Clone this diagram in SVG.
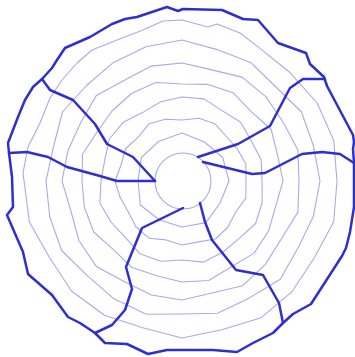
<svg xmlns="http://www.w3.org/2000/svg" width="355" height="357" viewBox="0 0 355 357">
<style>
.ring{fill:none;stroke:#a9a9ea;stroke-width:1.1;stroke-linejoin:round}
.wall{fill:none;stroke:#2f2fcf;stroke-width:2.5;stroke-linejoin:round;stroke-linecap:round}
</style>
<rect width="355" height="357" fill="#ffffff"/>
<g id="rings">
<circle id="hub" class="ring" cx="183" cy="181" r="28"/>
<polygon id="ring1" class="ring" points="229,181 220.1,203 206,222.6 182,227 159.5,220 140.4,205 138,181 141.3,157.5 159,141.2 182,133 204.5,142 222.7,157.5"/>
<polygon id="ring2" class="ring" points="246,181 245.8,198.1 235.7,212 228,227 215.5,239 198.3,241.9 182,245 166.2,239.9 149,238.2 136,227 128.3,212 120.2,197.6 115,181 121.1,164.7 125.7,148.5 138.2,137.2 149,123.8 165.4,119.2 182,120 198.8,118.2 215,123.8 226.5,136.5 237.4,149 245.8,163.9"/>
<polygon id="ring3" class="ring" points="262,181 262.2,202.5 255.6,223.5 239.3,238.3 223,252 203.8,262.1 182,260 160.5,261.2 140,253.7 125.4,237.6 111,222 99.9,203 101,181 104.7,160.3 109.3,139 123.3,122.3 142.5,112.6 160.8,101.8 182,97 204,98.9 222.5,110.9 240.7,122.3 251.3,141 261.2,159.8"/>
<polygon id="ring4" class="ring" points="283,181 275.7,206.1 268.6,231 254.1,253.1 231.5,266.7 208.7,280.5 182,282 156.6,275.7 132,267.6 113.4,249.6 93.7,232 84.4,207.2 82,181 82.5,154.3 97.1,132 112,111 131.5,93.5 155.6,82.5 182,84 207.9,84.4 233,92.7 251.3,111.7 271.2,129.5 277.6,155.4"/>
<polygon id="ring5" class="ring" points="299,181 297.9,212.1 281.6,238.5 265.4,264.4 242.5,285.8 212,293 182,300 151.4,295 124,281.5 96.4,266.6 78.9,240.5 70.9,210.8 62,181 68,150.4 80.7,122.5 96.4,95.4 124,80.5 151.2,66.1 182,63 211.8,69.9 242,77.1 266.1,96.9 283.3,122.5 297.9,149.9"/>
<polygon id="ring6" class="ring" points="320,181 313.4,216.2 298,248 280.3,279.3 249.5,297.9 217.5,313.3 182,314 146.3,314.3 114,298.8 87.3,275.7 61.6,250.5 49.7,216.5 46,181 53.5,146.6 62.5,112 86.5,85.5 113.5,62.4 146,46.7 182,40 217.2,49.6 250.5,62.4 276,87 301.5,112 313.4,145.8"/>
<polygon id="ring7" class="ring" points="337,181 333.7,221.7 314.5,257.5 292.3,291.3 261,317.8 221.9,329.8 182,338 142.7,327.8 104.5,315.2 71.7,291.3 49.5,257.5 29.4,221.9 23,173 28,147 40,123 50,98 62,80 77,63 92,50 117,40 143,30 163,21 182,20 208,27 217,24 240,33 259,47.6 290.2,72.8 317.1,103 333.7,140.4"/>
</g>
<g id="outer">
<polygon class="wall" points="167,7 178,11 183,9 222,10 243,19 258,20 278,43 306,53 310,64 324,77 327,86 353,135 354,142 353,149 354,163 354,207 350,232 346,248 342,256 311,304 293,314 283,323 273,333 253,343 237,352 213,350 167,350 148,354 127,344 105,343 95,333 80,323 68,317 52,295 28,274 23,252 7,215 13,207 12,177 9,153 8,143 18,117 25,100 33,87 42,79 52,68 57,60 65,48 90,37 112,24 125,19 137,17"/>
</g>
<g id="connectors">
<polyline id="wall-ul" class="wall" points="155,181 133,157 107,144 95,124 73,100 50,90 42,79"/>
<polyline id="wall-l" class="wall" points="9,153 27,152 48,157 67,167 100,176 117,181 155,181"/>
<polyline id="wall-ur" class="wall" points="198,157 238,144 270,126 290,88 303,79 325,79"/>
<polyline id="wall-r" class="wall" points="203,162 252,174 265,173 302,154 322,152 340,154 354,163"/>
<polyline id="wall-br" class="wall" points="200,203 205,222 212,240 236,270 263,275 279,303 283,323"/>
<polyline id="wall-bl" class="wall" points="183,208 142,228 126,267 132,289 125,310 112,325 95,333"/>
</g>
</svg>
